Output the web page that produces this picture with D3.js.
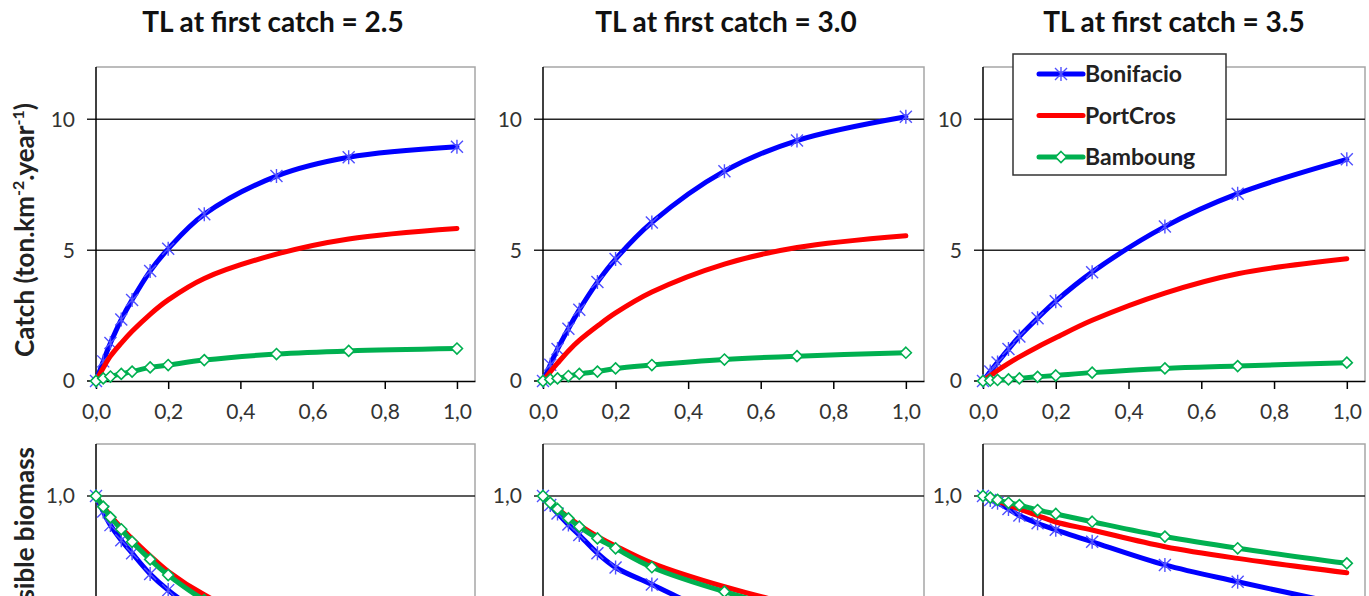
<!DOCTYPE html>
<html>
<head>
<meta charset="utf-8">
<script src="https://cdn.jsdelivr.net/npm/d3@7"></script>
<style>
  body { margin: 0; background: #fff; }
  svg { display: block; font-family: Lato, "Open Sans", sans-serif; }
  .tick-label { font-size: 21px; fill: #333; }
  .panel-title { font-size: 28px; font-weight: bold; fill: #111; text-anchor: middle; }
  .axis-title { font-size: 26px; font-weight: bold; fill: #222; }
  .legend-text { font-size: 23px; font-weight: bold; fill: #222; }
</style>
</head>
<body>
<div id="wrapper"></div>
<script>
// fishing mortality values (x) shared by all series
const fishingRates = [0, 0.02, 0.04, 0.07, 0.1, 0.15, 0.2, 0.3, 0.5, 0.7, 1.0];
const panelTitles = ["TL at first catch = 2.5", "TL at first catch = 3.0", "TL at first catch = 3.5"];
const siteNames = ["Bonifacio", "PortCros", "Bamboung"];
const xTicks = [0, 0.2, 0.4, 0.6, 0.8, 1.0];
const catchTicks = [0, 5, 10];
// only the 1,0 gridline of the biomass panels is in view
const biomassTicks = [1.0];

// catch (ton.km-2.year-1), one array per panel
const catchBonifacio = [
  [0, 0.75, 1.45, 2.35, 3.1, 4.2, 5.05, 6.37, 7.83, 8.55, 8.95],
  [0, 0.62, 1.22, 2.0, 2.72, 3.78, 4.66, 6.06, 8.02, 9.19, 10.1],
  [0, 0.36, 0.71, 1.22, 1.7, 2.4, 3.05, 4.16, 5.9, 7.16, 8.47],
];
const catchPortCros = [
  [0, 0.5, 0.95, 1.45, 1.9, 2.55, 3.1, 3.92, 4.85, 5.43, 5.83],
  [0, 0.35, 0.68, 1.15, 1.55, 2.1, 2.6, 3.4, 4.47, 5.1, 5.55],
  [0, 0.2, 0.4, 0.67, 0.92, 1.3, 1.65, 2.32, 3.36, 4.1, 4.67],
];
const catchBamboung = [
  [0, 0.1, 0.17, 0.27, 0.36, 0.52, 0.61, 0.8, 1.03, 1.15, 1.24],
  [0, 0.06, 0.1, 0.19, 0.27, 0.36, 0.48, 0.61, 0.82, 0.95, 1.08],
  [0, 0.02, 0.04, 0.06, 0.1, 0.16, 0.21, 0.32, 0.48, 0.57, 0.7],
];

// relative accessible biomass, one array per panel
const biomassBonifacio = [
  [1, 0.94, 0.888, 0.83, 0.78, 0.7, 0.638, 0.54, 0.4, 0.31, 0.22],
  [1, 0.965, 0.933, 0.89, 0.85, 0.78, 0.725, 0.66, 0.53, 0.44, 0.34],
  [1, 0.985, 0.974, 0.95, 0.925, 0.895, 0.87, 0.824, 0.735, 0.67, 0.58],
];
const biomassPortCros = [
  [1, 0.96, 0.925, 0.878, 0.835, 0.77, 0.71, 0.62, 0.49, 0.4, 0.31],
  [1, 0.975, 0.952, 0.918, 0.888, 0.845, 0.808, 0.742, 0.651, 0.58, 0.5],
  [1, 0.99, 0.98, 0.965, 0.95, 0.925, 0.9, 0.869, 0.805, 0.76, 0.705],
];
const biomassBamboung = [
  [1, 0.959, 0.918, 0.872, 0.824, 0.756, 0.696, 0.6, 0.47, 0.38, 0.29],
  [1, 0.974, 0.95, 0.914, 0.882, 0.837, 0.799, 0.726, 0.632, 0.56, 0.48],
  [1, 0.994, 0.985, 0.974, 0.965, 0.946, 0.931, 0.901, 0.844, 0.799, 0.741],
];

function drawChart() {
  //* Step 1. Access data
  const siteColors = ["#0000ff", "#ff0000", "#00b050"];
  const siteMarkers = ["star", "none", "diamond"];
  const catchSeries = [catchBonifacio, catchPortCros, catchBamboung];
  const biomassSeries = [biomassBonifacio, biomassPortCros, biomassBamboung];

  //* Step 2. Create chart dimensions
  const dimensions = {
    width: 1369,
    height: 596,
    panelLefts: [96, 543, 983],
    panelRights: [475, 924, 1365],
    titleCenters: [273, 726, 1174],
    top: { y0: 67, y1: 381 },
    bottom: { y0: 444, y1: 756 },
  };

  //* Step 3. Draw canvas
  const wrapper = d3
    .select("#wrapper")
    .append("svg")
    .attr("width", dimensions.width)
    .attr("height", dimensions.height);

  const commaFormat = (f) => (v) => d3.format(f)(v).replace(".", ",");

  function markerPath(type) {
    if (type === "star") return "M-6,-6L6,6M-6,6L6,-6M0,-7L0,7";
    if (type === "diamond") return "M0,-5.5L5.5,0L0,5.5L-5.5,0Z";
    return null;
  }

  function styleMarker(sel, s) {
    const isDiamond = siteMarkers[s] === "diamond";
    sel
      .attr("fill", isDiamond ? "#fff" : "none")
      .attr("stroke", isDiamond ? siteColors[s] : "#5050ff")
      .attr("stroke-width", isDiamond ? 1.6 : 1.4);
  }

  function drawPanel(i, series, yDomain, yTicks, yFormat, y0, y1, showXAxis) {
    const left = dimensions.panelLefts[i];
    const right = dimensions.panelRights[i];

    //* Step 4. Create scales
    const xScale = d3.scaleLinear().domain([0, 1.05]).range([left, right]);
    const yScale = d3.scaleLinear().domain(yDomain).range([y1, y0]);

    //* Step 5. Draw peripherals
    const g = wrapper.append("g");

    // plot border (top/right) in grey
    g.append("path")
      .attr("d", `M${left},${y0}H${right}V${y1}`)
      .attr("fill", "none")
      .attr("stroke", "#a6a6a6")
      .attr("stroke-width", 1.5);

    // horizontal gridlines, with tick stubs left of axis
    yTicks.forEach((tick) => {
      const y = yScale(tick);
      g.append("line")
        .attr("x1", left - 9)
        .attr("x2", tick > yDomain[0] ? right : left)
        .attr("y1", y)
        .attr("y2", y)
        .attr("stroke", tick > yDomain[0] ? "#262626" : "#000")
        .attr("stroke-width", 1.5);
      g.append("text")
        .attr("class", "tick-label")
        .attr("x", left - 21)
        .attr("y", y)
        .attr("dy", "0.35em")
        .attr("text-anchor", "end")
        .text(yFormat(tick));
    });

    // left axis
    g.append("line")
      .attr("x1", left)
      .attr("x2", left)
      .attr("y1", y0)
      .attr("y2", y1)
      .attr("stroke", "#000")
      .attr("stroke-width", 1.5);

    if (showXAxis) {
      const xAxis = d3
        .axisBottom(xScale)
        .tickValues(xTicks)
        .tickSize(8)
        .tickSizeOuter(0)
        .tickPadding(15)
        .tickFormat(commaFormat(".1f"));
      const axisG = g
        .append("g")
        .attr("transform", `translate(0, ${y1})`)
        .call(xAxis)
        .attr("font-family", null)
        .attr("font-size", null);
      axisG.select(".domain").attr("stroke", "#000").attr("stroke-width", 1.5);
      axisG.selectAll(".tick line").attr("stroke", "#000").attr("stroke-width", 1.5);
      axisG.selectAll(".tick text").attr("class", "tick-label").attr("fill", null);
    }

    //* Step 6. Draw data
    const lineGenerator = d3
      .line()
      .x((d) => xScale(d[0]))
      .y((d) => yScale(d[1]))
      .curve(d3.curveCatmullRom.alpha(0.5));

    series.forEach((siteData, s) => {
      const points = fishingRates.map((x, k) => [x, siteData[i][k]]);
      const siteG = g.append("g");
      siteG
        .append("path")
        .attr("d", lineGenerator(points))
        .attr("fill", "none")
        .attr("stroke", siteColors[s])
        .attr("stroke-width", 5)
        .attr("stroke-linecap", "round")
        .attr("stroke-linejoin", "round");

      const marker = markerPath(siteMarkers[s]);
      if (!marker) return;
      siteG
        .selectAll("path.marker")
        .data(points)
        .join("path")
        .attr("class", "marker")
        .attr("transform", (d) => `translate(${xScale(d[0])}, ${yScale(d[1])})`)
        .attr("d", marker)
        .call(styleMarker, s);
    });
  }

  panelTitles.forEach((title, i) => {
    drawPanel(i, catchSeries, [0, 12], catchTicks, d3.format("d"), dimensions.top.y0, dimensions.top.y1, true);
    drawPanel(i, biomassSeries, [0, 1.2], biomassTicks, commaFormat(".1f"), dimensions.bottom.y0, dimensions.bottom.y1, false);

    wrapper
      .append("text")
      .attr("class", "panel-title")
      .attr("x", dimensions.titleCenters[i])
      .attr("y", 32)
      .text(title);
  });

  // y axis titles
  const catchTitle = wrapper
    .append("text")
    .attr("class", "axis-title")
    .attr("transform", "translate(34, 230) rotate(-90)")
    .attr("text-anchor", "middle");
  catchTitle.append("tspan").text("Catch (ton.km");
  catchTitle.append("tspan").attr("dy", -10).attr("font-size", 16).text("-2");
  catchTitle.append("tspan").attr("dy", 10).text(".year");
  catchTitle.append("tspan").attr("dy", -10).attr("font-size", 16).text("-1");
  catchTitle.append("tspan").attr("dy", 10).text(")");

  wrapper
    .append("text")
    .attr("class", "axis-title")
    .attr("transform", "translate(34, 447) rotate(-90)")
    .attr("text-anchor", "end")
    .text("Accessible biomass");

  //* Step 7. Legend
  const legend = wrapper.append("g");
  legend
    .append("rect")
    .attr("x", 1013)
    .attr("y", 54)
    .attr("width", 213)
    .attr("height", 121)
    .attr("fill", "#fff")
    .attr("stroke", "#333")
    .attr("stroke-width", 1.5);

  siteNames.forEach((name, s) => {
    const y = 74 + s * 41.5;
    legend
      .append("line")
      .attr("x1", 1039)
      .attr("x2", 1083)
      .attr("y1", y)
      .attr("y2", y)
      .attr("stroke", siteColors[s])
      .attr("stroke-width", 5)
      .attr("stroke-linecap", "round");
    const marker = markerPath(siteMarkers[s]);
    if (marker) {
      legend
        .append("path")
        .attr("transform", `translate(1061, ${y})`)
        .attr("d", marker)
        .call(styleMarker, s);
    }
    legend
      .append("text")
      .attr("class", "legend-text")
      .attr("x", 1085)
      .attr("y", y)
      .attr("dy", "0.35em")
      .text(name);
  });
}

drawChart();
</script>
</body>
</html>
